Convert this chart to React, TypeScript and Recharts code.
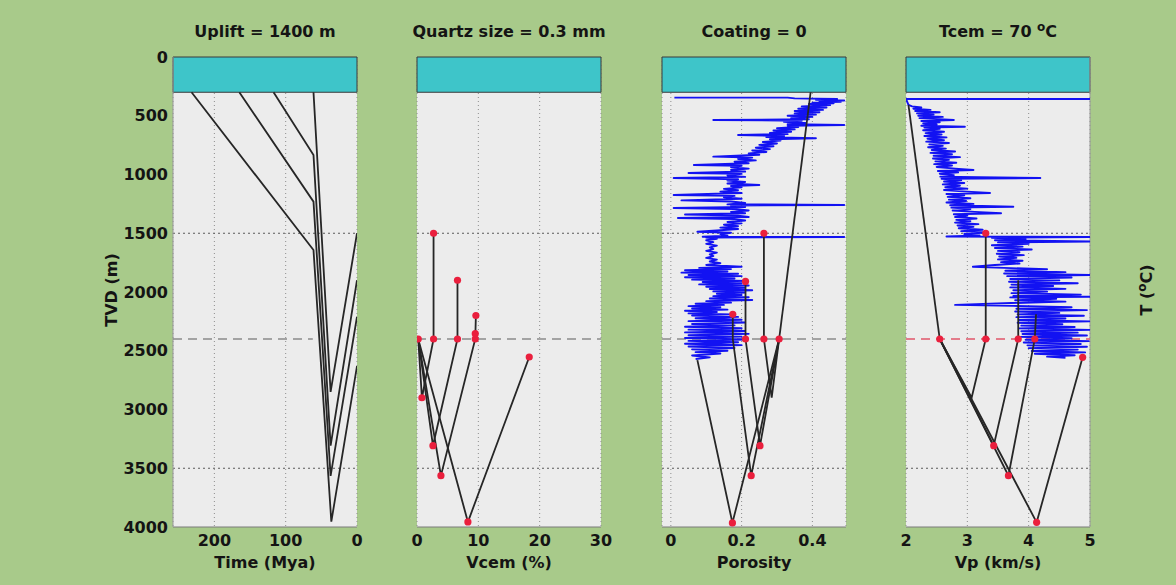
import React from "react";
import {
  ScatterChart,
  Scatter,
  XAxis,
  YAxis,
  CartesianGrid,
  ReferenceArea,
  ReferenceLine,
} from "recharts";

// depth axis (TVD, m) and temperature labels on the right
const depthTicks = [0, 500, 1000, 1500, 2000, 2500, 3000, 3500, 4000];
const tempTickDepths = [300, 500, 1000, 1500, 2000, 2500, 3000, 3500, 4000];
const tempTickLabels = ["0", "7", "23", "40", "57", "73", "90", "107", "123"];
const seaDepth = 300;
const tcemDepth = 2400;

// panel 1: burial history [time Mya, TVD m]
const burial1 = [[61, 300], [37, 2850], [0, 1500]];
const burial2 = [[117, 300], [61, 834], [37, 3308], [0, 1900]];
const burial3 = [[165, 300], [61, 1231], [37, 3565], [0, 2210]];
const burial4 = [[232, 300], [61, 1643], [36, 3955], [0, 2630]];
const burialCut = [[258, 2400], [62, 2400]];

// panel 2: quartz cement [Vcem %, TVD m]
const vcem1 = [[0.2, 2400], [0.8, 2900], [2.7, 2400], [2.7, 1500]];
const vcem2 = [[0.2, 2400], [2.6, 3308], [6.6, 2400], [6.6, 1900]];
const vcem3 = [[0.2, 2400], [3.9, 3563], [9.5, 2400], [9.6, 2200]];
const vcem4 = [[0.2, 2400], [8.3, 3957], [18.3, 2553]];
const vcemDots = [
  [0.2, 2400], [2.7, 2400], [6.6, 2400], [9.5, 2400], [9.5, 2355],
  [2.7, 1500], [6.6, 1900], [9.6, 2200], [18.3, 2553],
  [0.8, 2900], [2.6, 3308], [3.9, 3563], [8.3, 3957],
];

// panel 3: porosity [fraction, TVD m]
const porTrend = [[0.395, 300], [0.306, 2400]];
const por1 = [[0.306, 2400], [0.285, 2900], [0.263, 2400], [0.263, 1500]];
const por2 = [[0.306, 2400], [0.252, 3308], [0.211, 2400], [0.211, 1910]];
const por3 = [[0.306, 2400], [0.227, 3563], [0.175, 2400], [0.175, 2190]];
const por4 = [[0.306, 2400], [0.174, 3965], [0.075, 2580]];
const porDots = [
  [0.263, 1500], [0.211, 1910], [0.175, 2190],
  [0.211, 2400], [0.263, 2400], [0.306, 2400],
  [0.252, 3308], [0.227, 3563], [0.174, 3965],
];
// porosity log [TVD m, fraction]
const porLog = [
  [346, 0.01], [346, 0.33], [352, 0.35], [358, 0.47], [364, 0.41], [370, 0.49], [376, 0.42],
  [382, 0.48], [388, 0.4], [394, 0.46], [400, 0.39], [410, 0.45], [420, 0.37], [430, 0.44],
  [440, 0.36], [450, 0.43], [460, 0.35], [470, 0.42], [480, 0.35], [490, 0.41], [500, 0.33],
  [510, 0.4], [520, 0.34], [530, 0.39], [536, 0.12], [542, 0.37], [552, 0.32], [562, 0.38],
  [572, 0.33], [579, 0.49], [586, 0.33], [596, 0.36], [606, 0.3], [616, 0.35], [626, 0.29],
  [636, 0.34], [646, 0.28], [656, 0.33], [664, 0.19], [672, 0.32], [682, 0.27], [692, 0.41],
  [700, 0.28], [712, 0.31], [724, 0.26], [736, 0.3], [748, 0.25], [760, 0.29], [772, 0.24],
  [784, 0.28], [796, 0.23], [808, 0.27], [820, 0.22], [832, 0.25], [848, 0.12], [856, 0.23],
  [868, 0.19], [880, 0.24], [892, 0.18], [904, 0.22], [919, 0.065], [926, 0.2], [938, 0.17],
  [950, 0.22], [962, 0.17], [975, 0.21], [987, 0.05], [995, 0.2], [1008, 0.16], [1020, 0.21],
  [1030, 0.008], [1040, 0.19], [1052, 0.16], [1064, 0.21], [1076, 0.16], [1089, 0.25],
  [1098, 0.17], [1110, 0.2], [1122, 0.15], [1134, 0.19], [1146, 0.14], [1158, 0.2],
  [1174, 0.008], [1182, 0.18], [1194, 0.15], [1206, 0.2], [1220, 0.03], [1230, 0.17],
  [1242, 0.21], [1254, 0.16], [1260, 0.49], [1264, 0.17], [1276, 0.21], [1285, 0.008],
  [1294, 0.18], [1306, 0.22], [1318, 0.17], [1330, 0.21], [1340, 0.04], [1350, 0.19],
  [1362, 0.22], [1370, 0.02], [1380, 0.18], [1392, 0.21], [1404, 0.16], [1416, 0.2],
  [1428, 0.15], [1440, 0.19], [1452, 0.14], [1464, 0.19], [1476, 0.13], [1487, 0.075],
  [1496, 0.17], [1508, 0.14], [1520, 0.16], [1530, 0.09], [1532, 0.49], [1536, 0.1],
  [1548, 0.13], [1560, 0.1], [1575, 0.12], [1590, 0.1], [1605, 0.13], [1620, 0.11],
  [1635, 0.12], [1650, 0.1], [1665, 0.13], [1680, 0.11], [1695, 0.12], [1710, 0.1],
  [1725, 0.13], [1740, 0.11], [1755, 0.14], [1770, 0.1], [1785, 0.2], [1795, 0.08],
  [1805, 0.17], [1815, 0.04], [1825, 0.16], [1835, 0.03], [1845, 0.19], [1855, 0.05],
  [1865, 0.2], [1875, 0.04], [1885, 0.18], [1895, 0.06], [1905, 0.21], [1915, 0.09],
  [1925, 0.2], [1935, 0.08], [1945, 0.22], [1955, 0.1], [1965, 0.21], [1975, 0.11],
  [1985, 0.23], [1995, 0.12], [2005, 0.21], [2015, 0.13], [2025, 0.2], [2035, 0.12],
  [2045, 0.22], [2055, 0.11], [2068, 0.23], [2078, 0.1], [2090, 0.17], [2100, 0.07],
  [2110, 0.15], [2120, 0.05], [2130, 0.14], [2140, 0.06], [2150, 0.16], [2160, 0.04],
  [2170, 0.13], [2182, 0.05], [2190, 0.17], [2200, 0.06], [2212, 0.19], [2224, 0.07],
  [2236, 0.2], [2248, 0.05], [2260, 0.21], [2272, 0.06], [2284, 0.18], [2296, 0.04],
  [2308, 0.2], [2320, 0.05], [2332, 0.21], [2344, 0.04], [2356, 0.22], [2368, 0.05],
  [2380, 0.2], [2392, 0.04], [2404, 0.21], [2416, 0.05], [2428, 0.19], [2440, 0.04],
  [2452, 0.2], [2464, 0.05], [2476, 0.18], [2488, 0.06], [2500, 0.16], [2512, 0.07],
  [2524, 0.14], [2540, 0.06], [2556, 0.11], [2570, 0.07],
];

// panel 4: P-velocity [km/s, TVD m]
const vp1 = [[2.55, 2400], [3.07, 2900], [3.3, 2400], [3.3, 1500]];
const vp2 = [[2.55, 2400], [3.43, 3308], [3.83, 2400], [3.83, 1900]];
const vp3 = [[2.55, 2400], [3.67, 3563], [4.1, 2400], [4.12, 2190]];
const vp4 = [[2.55, 2400], [4.13, 3960], [4.88, 2556]];
const vpTrend = [[2.04, 408], [2.55, 2400]];
const vpDots = [
  [3.3, 1500], [2.55, 2400], [3.3, 2400], [3.83, 2400], [4.1, 2400],
  [4.88, 2556], [3.43, 3308], [3.67, 3563], [4.13, 3960],
];
// Vp log [TVD m, km/s]
const vpLog = [
  [357, 5.0], [357, 2.0], [408, 2.04], [420, 2.1], [430, 2.25], [440, 2.12], [450, 2.4],
  [460, 2.15], [470, 2.55], [480, 2.18], [490, 2.45], [500, 2.2], [510, 2.6], [520, 2.22],
  [536, 2.78], [545, 2.25], [555, 2.55], [565, 2.28], [575, 2.5], [585, 2.25], [593, 2.96],
  [600, 2.3], [612, 2.55], [624, 2.28], [636, 2.62], [648, 2.32], [660, 2.58], [672, 2.3],
  [684, 2.66], [696, 2.35], [708, 2.62], [720, 2.33], [732, 2.7], [744, 2.38], [756, 2.6],
  [768, 2.36], [780, 2.65], [792, 2.42], [804, 2.8], [816, 2.4], [828, 2.75], [840, 2.45],
  [852, 2.88], [864, 2.44], [876, 2.7], [888, 2.48], [900, 2.82], [912, 2.46], [924, 2.75],
  [936, 2.5], [950, 2.8], [962, 3.1], [970, 2.52], [982, 2.85], [994, 2.55], [1006, 2.78],
  [1018, 2.56], [1030, 4.19], [1036, 2.58], [1048, 2.9], [1060, 2.62], [1072, 2.95],
  [1084, 2.6], [1096, 2.88], [1108, 2.64], [1120, 3.0], [1132, 2.62], [1144, 2.92],
  [1158, 3.37], [1166, 2.66], [1178, 2.95], [1190, 2.68], [1202, 3.05], [1214, 2.7],
  [1226, 2.98], [1238, 2.66], [1250, 3.1], [1262, 2.72], [1274, 3.75], [1282, 2.74],
  [1294, 3.05], [1306, 2.76], [1318, 3.12], [1330, 3.55], [1338, 2.78], [1350, 3.0],
  [1362, 2.8], [1374, 3.15], [1386, 2.82], [1398, 3.05], [1410, 2.8], [1422, 3.18],
  [1434, 2.84], [1446, 3.1], [1458, 2.86], [1470, 3.25], [1482, 2.9], [1494, 3.3],
  [1506, 2.95], [1518, 3.2], [1528, 2.66], [1532, 5.0], [1538, 3.4], [1550, 3.95],
  [1560, 3.45], [1570, 5.0], [1578, 3.5], [1590, 4.0], [1602, 3.4], [1614, 3.9],
  [1626, 3.45], [1638, 4.05], [1650, 3.5], [1662, 3.85], [1674, 3.48], [1686, 3.92],
  [1698, 3.52], [1710, 3.8], [1722, 3.5], [1734, 3.9], [1746, 3.55], [1758, 3.85],
  [1770, 3.45], [1785, 3.09], [1795, 3.6], [1807, 4.3], [1819, 3.62], [1831, 4.6],
  [1843, 3.6], [1855, 5.0], [1865, 3.65], [1877, 4.7], [1889, 3.7], [1901, 4.5],
  [1913, 3.68], [1925, 4.8], [1937, 3.72], [1949, 4.4], [1961, 3.7], [1973, 4.6],
  [1985, 3.75], [1997, 4.3], [2010, 3.72], [2022, 4.85], [2034, 3.75], [2040, 5.0],
  [2046, 3.7], [2058, 4.45], [2070, 3.78], [2082, 4.6], [2094, 3.72], [2110, 2.8],
  [2118, 3.75], [2130, 4.7], [2142, 3.8], [2154, 4.95], [2166, 3.78], [2178, 4.5],
  [2190, 3.82], [2202, 4.9], [2214, 3.8], [2226, 4.6], [2238, 3.85], [2250, 5.0],
  [2262, 3.82], [2274, 4.55], [2286, 3.88], [2298, 4.75], [2310, 3.84], [2322, 5.0],
  [2334, 3.88], [2346, 4.8], [2358, 3.9], [2370, 4.95], [2382, 3.86], [2394, 4.7],
  [2406, 3.95], [2418, 4.98], [2430, 3.92], [2442, 4.85], [2454, 3.98], [2466, 4.95],
  [2478, 4.0], [2490, 4.8], [2502, 4.05], [2514, 4.92], [2526, 4.1], [2538, 4.75],
  [2550, 4.3], [2560, 4.6],
];

const BG = "#a8ca8a";
const PLOT_BG = "#ececec";
const CYAN = "#3ec5c9";
const INK = "#141414";
const FONT = "'DejaVu Sans', sans-serif";
const PW = 184;

const xy = (a: number[][]) => a.map(([x, y]) => ({ x, y }));
const logXY = (a: number[][]) => a.map(([d, v]) => ({ x: v, y: d }));
const noDot = () => <g />;
const redDot = (p: any) => <circle cx={p.cx} cy={p.cy} r={3.6} fill="#ea1f3d" />;
const tickStyle = { fontFamily: FONT, fontWeight: "bold", fontSize: 16, fill: INK };
const supStyle: React.CSSProperties = { fontSize: 12, verticalAlign: "6px", lineHeight: 0 };

type PanelProps = {
  plotLeft: number;
  domain: [number, number];
  ticks: number[];
  reversed?: boolean;
  fmt?: (v: number) => string;
  paths: number[][][];
  log?: number[][];
  dots?: number[][];
  cut: number[][];
  cutColor: string;
  depthAxis?: boolean;
  tempAxis?: boolean;
};

function Panel(p: PanelProps) {
  const yW = p.depthAxis ? 70 : 0;
  const rW = p.tempAxis ? 50 : 0;
  const side = 16;
  const width = side + yW + PW + rW + side;
  return (
    <div style={{ position: "absolute", left: p.plotLeft - side - yW, top: 0 }}>
      <ScatterChart width={width} height={585} margin={{ top: 57, right: side, bottom: 0, left: side }}>
        <CartesianGrid horizontal={false} stroke="#8d8d8d" strokeDasharray="1 3" fill={PLOT_BG} />
        <XAxis
          type="number"
          dataKey="x"
          domain={p.domain}
          ticks={p.ticks}
          reversed={p.reversed}
          allowDataOverflow
          height={58}
          tickSize={0}
          tickMargin={8}
          tick={tickStyle}
          tickFormatter={p.fmt}
          axisLine={{ stroke: "#7a7a7a" }}
        />
        <YAxis
          type="number"
          dataKey="y"
          domain={[0, 4000]}
          reversed
          ticks={depthTicks}
          hide={!p.depthAxis}
          width={yW}
          tickSize={0}
          tickMargin={5}
          tick={tickStyle}
          axisLine={{ stroke: "#9a9a9a" }}
          allowDataOverflow
        />
        {p.tempAxis && (
          <YAxis
            yAxisId="t"
            orientation="right"
            type="number"
            domain={[0, 4000]}
            reversed
            ticks={tempTickDepths}
            width={rW}
            tickSize={0}
            tickMargin={3}
            tick={{ ...tickStyle, textAnchor: "start" }}
            tickFormatter={(v: number) => tempTickLabels[tempTickDepths.indexOf(v)]}
            axisLine={{ stroke: "#9a9a9a" }}
          />
        )}
        <ReferenceArea y1={0} y2={seaDepth} fill={CYAN} fillOpacity={1} stroke="#3a3a3a" strokeWidth={1} />
        <ReferenceLine y={1500} stroke="#5a5a5a" strokeDasharray="2 3" />
        <ReferenceLine y={3500} stroke="#5a5a5a" strokeDasharray="2 3" />
        <Scatter
          data={xy(p.cut)}
          line={{ stroke: p.cutColor, strokeWidth: 1.3, strokeDasharray: "9 6" }}
          shape={noDot}
          isAnimationActive={false}
        />
        {p.log && (
          <Scatter
            data={logXY(p.log)}
            line={{ stroke: "#1212f2", strokeWidth: 1.9, strokeLinejoin: "round" }}
            shape={noDot}
            isAnimationActive={false}
          />
        )}
        {p.paths.map((path, i) => (
          <Scatter
            key={i}
            data={xy(path)}
            line={{ stroke: "#262626", strokeWidth: 1.8 }}
            shape={noDot}
            isAnimationActive={false}
          />
        ))}
        {p.dots && <Scatter data={xy(p.dots)} shape={redDot} isAnimationActive={false} />}
      </ScatterChart>
    </div>
  );
}

const text: React.CSSProperties = {
  position: "absolute",
  fontFamily: FONT,
  fontWeight: "bold",
  fontSize: 16,
  color: INK,
  lineHeight: "20px",
  whiteSpace: "nowrap",
  textAlign: "center",
};

const panelLefts = [173, 417, 662, 906];
const titles: React.ReactNode[] = [
  "Uplift = 1400 m",
  "Quartz size = 0.3 mm",
  "Coating = 0",
  <>Tcem = 70 <sup style={supStyle}>o</sup>C</>,
];
const xLabels = ["Time (Mya)", "Vcem (%)", "Porosity", "Vp (km/s)"];

export default function App() {
  return (
    <div style={{ position: "fixed", left: 0, top: 0, width: 1176, height: 585, background: BG, overflow: "hidden" }}>
      <Panel
        plotLeft={panelLefts[0]}
        domain={[0, 258]}
        ticks={[0, 100, 200]}
        reversed
        paths={[burial1, burial2, burial3, burial4]}
        cut={burialCut}
        cutColor="#8a8a8a"
        depthAxis
      />
      <Panel
        plotLeft={panelLefts[1]}
        domain={[0, 30]}
        ticks={[0, 10, 20, 30]}
        paths={[vcem1, vcem2, vcem3, vcem4]}
        dots={vcemDots}
        cut={[[0, tcemDepth], [30, tcemDepth]]}
        cutColor="#8a8a8a"
      />
      <Panel
        plotLeft={panelLefts[2]}
        domain={[-0.025, 0.495]}
        ticks={[0, 0.2, 0.4]}
        fmt={(v: number) => (v === 0 ? "0" : String(v))}
        paths={[porTrend, por1, por2, por3, por4]}
        log={porLog}
        dots={porDots}
        cut={[[-0.025, tcemDepth], [0.495, tcemDepth]]}
        cutColor="#8a8a8a"
      />
      <Panel
        plotLeft={panelLefts[3]}
        domain={[2, 5]}
        ticks={[2, 3, 4, 5]}
        paths={[vpTrend, vp1, vp2, vp3, vp4]}
        log={vpLog}
        dots={vpDots}
        cut={[[2, tcemDepth], [5, tcemDepth]]}
        cutColor="#e0566a"
        tempAxis
      />
      {titles.map((t, i) => (
        <div key={i} style={{ ...text, left: panelLefts[i] - 30, width: PW + 60, top: 22 }}>
          {t}
        </div>
      ))}
      {xLabels.map((t, i) => (
        <div key={i} style={{ ...text, left: panelLefts[i] - 30, width: PW + 60, top: 553 }}>
          {t}
        </div>
      ))}
      <div style={{ ...text, left: 62, top: 280, width: 100, transform: "rotate(-90deg)" }}>TVD (m)</div>
      <div style={{ ...text, left: 1097, top: 280, width: 100, transform: "rotate(-90deg)" }}>
        T (<sup style={supStyle}>o</sup>C)
      </div>
    </div>
  );
}
